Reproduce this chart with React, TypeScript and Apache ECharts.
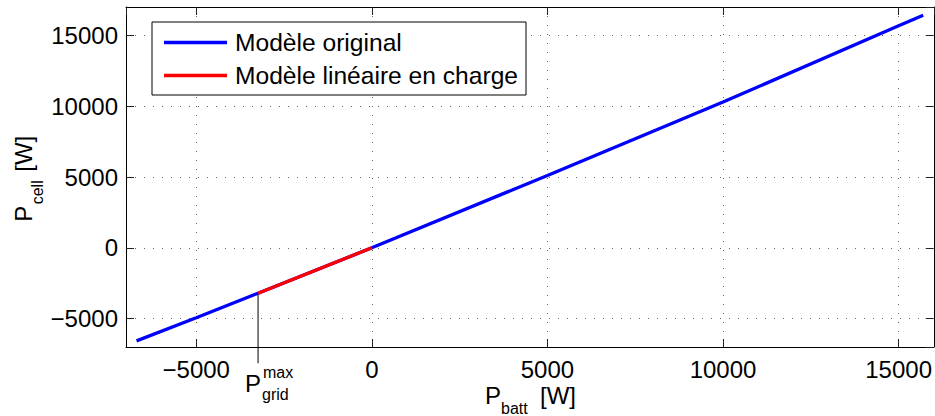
import React, { useEffect, useRef } from "react";
import * as echarts from "echarts";

// Data
const X_ORIGINAL = [-6700, -5000, -3240, 0, 5000, 10000, 15000, 15700];
const Y_ORIGINAL = [-6570, -4930, -3200, 0, 5110, 10290, 15670, 16420];
const X_LINEAR = [-3240, 0];
const Y_LINEAR = [-3200, 0];
const P_GRID_MAX = -3240;
const P_GRID_MAX_Y = -3200;
const P_GRID_LINE_BOTTOM = -8150;
const SERIES_NAMES = ["Modèle original", "Modèle linéaire en charge"];
const X_RANGE = [-7000, 16000];
const Y_RANGE = [-7000, 17000];

const FONT = "'Liberation Sans', Arial, Helvetica, sans-serif";

const fmt = (v: number) => (v < 0 ? "\u2212" + Math.abs(v) : String(v));

export default function App() {
  const ref = useRef<HTMLDivElement>(null);
  useEffect(() => {
    if (!ref.current) return;
    const chart = echarts.init(ref.current, null, { renderer: "svg" });
    const grid = "#666";
    const axisCommon = {
      type: "value" as const,
      axisLine: { show: true, onZero: false, lineStyle: { color: "#000", width: 1 } },
      axisTick: { show: true, inside: true, length: 8, lineStyle: { color: "#222", width: 1 } },
    };
    chart.setOption({
      animation: false,
      textStyle: { fontFamily: FONT },
      grid: { left: 126, top: 7, right: 1, bottom: 69, containLabel: false },
      legend: {
        data: SERIES_NAMES,
        orient: "vertical",
        left: 152,
        top: 22,
        padding: [8, 7, 7, 12],
        itemGap: 8,
        itemWidth: 63,
        itemHeight: 3.5,
        icon: "rect",
        backgroundColor: "#fff",
        borderColor: "#000",
        borderWidth: 1,
        borderRadius: 0,
        textStyle: {
          fontSize: 24.6,
          color: "#000",
          fontFamily: FONT,
          lineHeight: 24,
          width: 284,
          padding: [0, 0, 0, 3],
        },
      },
      xAxis: [
        {
          ...axisCommon,
          position: "bottom",
          min: X_RANGE[0],
          max: X_RANGE[1],
          splitNumber: 5,
          axisLabel: {
            show: true,
            margin: 10,
            fontSize: 24,
            color: "#000",
            fontFamily: FONT,
            lineHeight: 24,
            showMinLabel: false,
            showMaxLabel: false,
            formatter: fmt,
          },
          splitLine: { show: true, lineStyle: { color: grid, width: 1, type: [1, 8] } },
        },
        {
          ...axisCommon,
          position: "top",
          min: X_RANGE[0],
          max: X_RANGE[1],
          splitNumber: 5,
          axisLabel: { show: false },
          splitLine: { show: false },
        },
      ],
      yAxis: [
        {
          ...axisCommon,
          position: "left",
          min: Y_RANGE[0],
          max: Y_RANGE[1],
          splitNumber: 5,
          axisLabel: {
            show: true,
            margin: 8,
            fontSize: 24,
            color: "#000",
            fontFamily: FONT,
            showMinLabel: false,
            showMaxLabel: false,
            formatter: fmt,
          },
          splitLine: { show: true, lineStyle: { color: grid, width: 1, type: [1, 8] } },
        },
        {
          ...axisCommon,
          position: "right",
          min: Y_RANGE[0],
          max: Y_RANGE[1],
          splitNumber: 5,
          axisLabel: { show: false },
          splitLine: { show: false },
        },
      ],
      series: [
        {
          name: "pgrid-marker",
          type: "line",
          clip: false,
          symbol: "none",
          silent: true,
          z: 1,
          lineStyle: { color: "#000", width: 1 },
          data: [
            [P_GRID_MAX, P_GRID_MAX_Y],
            [P_GRID_MAX, P_GRID_LINE_BOTTOM],
          ],
        },
        {
          name: SERIES_NAMES[0],
          type: "line",
          symbol: "none",
          z: 2,
          color: "#0000ff",
          lineStyle: { color: "#0000ff", width: 3.3 },
          data: X_ORIGINAL.map((x, i) => [x, Y_ORIGINAL[i]]),
        },
        {
          name: SERIES_NAMES[1],
          type: "line",
          symbol: "none",
          z: 3,
          color: "#ff0000",
          lineStyle: { color: "#ff0000", width: 3.3 },
          data: X_LINEAR.map((x, i) => [x, Y_LINEAR[i]]),
        },
      ],
      graphic: [
        // x-axis name: P_batt [W]
        { type: "text", x: 485, y: 395.5, style: { text: "P", fontSize: 24, fontFamily: FONT, fill: "#000", align: "left", verticalAlign: "middle" } },
        { type: "text", x: 501, y: 408, style: { text: "batt", fontSize: 16, fontFamily: FONT, fill: "#000", align: "left", verticalAlign: "middle" } },
        { type: "text", x: 540, y: 395.5, style: { text: "[W]", fontSize: 24, fontFamily: FONT, fill: "#000", align: "left", verticalAlign: "middle" } },
        // y-axis name: P_cell [W]
        {
          type: "group",
          x: 23.4,
          y: 221.7,
          rotation: Math.PI / 2,
          children: [
            { type: "text", x: 0, y: 0, style: { text: "P", fontSize: 24, fontFamily: FONT, fill: "#000", align: "left", verticalAlign: "middle" } },
            { type: "text", x: 17.4, y: 14.4, style: { text: "cell", fontSize: 16, fontFamily: FONT, fill: "#000", align: "left", verticalAlign: "middle" } },
            { type: "text", x: 50, y: 0, style: { text: "[W]", fontSize: 24, fontFamily: FONT, fill: "#000", align: "left", verticalAlign: "middle" } },
          ],
        },
        // P_grid^max annotation
        { type: "text", x: 245, y: 383.5, style: { text: "P", fontSize: 24, fontFamily: FONT, fill: "#000", align: "left", verticalAlign: "middle" } },
        { type: "text", x: 263, y: 372.8, style: { text: "max", fontSize: 16, fontFamily: FONT, fill: "#000", align: "left", verticalAlign: "middle" } },
        { type: "text", x: 262, y: 394.5, style: { text: "grid", fontSize: 16, fontFamily: FONT, fill: "#000", align: "left", verticalAlign: "middle" } },
      ],
    });
    return () => chart.dispose();
  }, []);
  return (
    <div
      ref={ref}
      style={{ position: "fixed", left: 0, top: 0, width: 935, height: 416, background: "#fff" }}
    />
  );
}
